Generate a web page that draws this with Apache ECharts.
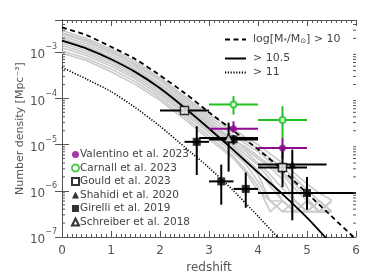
<!DOCTYPE html>
<html><head><meta charset="utf-8">
<script src="https://cdn.jsdelivr.net/npm/echarts@6/dist/echarts.min.js"></script>
<style>html,body{margin:0;padding:0;background:#fff}#c{width:374px;height:280px}</style>
</head><body><div id="c"></div>
<script>
const FONT = 'DejaVu Sans';
const TXT = '#555';
const AX = '#555';

// model curves (log10 number density) at redshift curveX
const curveX    = [0, 0.5, 1, 1.5, 2, 2.5, 3, 3.5, 4, 4.5, 5, 5.5, 6];
const logDashed = [-2.46, -2.63, -2.88, -3.15, -3.50, -3.88, -4.30, -4.70, -5.10, -5.55, -6.05, -6.55, -7.05];
const logSolid  = [-2.75, -2.92, -3.15, -3.43, -3.78, -4.20, -4.65, -5.12, -5.60, -6.07, -6.58, -7.15];
const logDotted = [-3.33, -3.58, -3.85, -4.20, -4.60, -5.05, -5.50, -6.00, -6.55, -7.12];

// grey model realisations (log10)
const grayX = [0, 0.5, 1, 1.5, 2, 2.5, 3, 3.5, 3.75, 4, 4.25, 4.5, 4.75, 5, 5.25, 5.5];
const grayLog1  = [-2.53,-2.70,-2.93,-3.20,-3.55,-3.95,-4.35,-4.65,-4.85,-5.00,-5.20,-5.40,-5.62,-5.85,-6.05,-6.20];
const grayLog2  = [-2.60,-2.77,-3.00,-3.28,-3.62,-4.03,-4.45,-4.80,-4.98,-5.15,-5.38,-5.60,-5.85,-6.15,-6.45,-6.22];
const grayLog3  = [-2.65,-2.82,-3.05,-3.33,-3.68,-4.08,-4.50,-4.88,-5.10,-5.30,-5.50,-5.75,-6.20,-6.45,-6.22,-6.45];
const grayLog4  = [-2.70,-2.87,-3.10,-3.38,-3.72,-4.13,-4.55,-4.95,-5.15,-5.40,-5.65,-5.95,-6.22,-6.45,-6.45,-6.22];
const grayLog5  = [-2.75,-2.92,-3.15,-3.43,-3.78,-4.18,-4.60,-5.00,-5.22,-5.45,-5.75,-6.22,-6.45,-6.22,-6.45,-6.45];
const grayLog6  = [-2.80,-2.97,-3.20,-3.48,-3.83,-4.23,-4.65,-5.05,-5.30,-5.55,-5.90,-6.22,-6.45,-6.45,-6.22,-6.45];
const grayLog7  = [-2.85,-3.02,-3.25,-3.53,-3.88,-4.28,-4.70,-5.10,-5.35,-5.65,-6.22,-6.45,-6.22,-6.45,-6.45,-6.45];
const grayLog8  = [-2.90,-3.07,-3.30,-3.58,-3.93,-4.33,-4.75,-5.18,-5.42,-5.80,-6.22,-6.22,-6.45,-6.22,-6.45,-6.45];
const grayLog9  = [-2.97,-3.13,-3.36,-3.64,-3.99,-4.39,-4.82,-5.25,-5.55,-5.90,-6.45,-6.22,-6.45,-6.45,-6.22,-6.45];
const grayLog10 = [-2.58,-2.74,-2.97,-3.25,-3.58,-3.98,-4.40,-4.72,-4.92,-5.08,-5.30,-5.50,-5.72,-5.98,-6.22,-6.45];
const grayLog11 = [-2.72,-2.90,-3.12,-3.40,-3.75,-4.15,-4.55,-4.90,-5.05,-5.25,-5.45,-5.65,-5.95,-6.22,-6.45,-6.22];
const grayLog12 = [-3.02,-3.18,-3.42,-3.70,-4.04,-4.45,-4.88,-5.30,-5.60,-6.00,-6.22,-6.45,-6.45,-6.22,-6.45,-6.45];
const grayLines = [grayLog1,grayLog2,grayLog3,grayLog4,grayLog5,grayLog6,grayLog7,grayLog8,grayLog9,grayLog10,grayLog11,grayLog12];

// observations
const valX = [3.5, 4.5], valY = [2.2e-5, 8.5e-6], valXlo = [3, 4], valXhi = [4, 5], valYlo = [1.8e-5, 5.0e-6], valYhi = [3.2e-5, 1.4e-5];
const carX = [3.5, 4.5], carY = [7.4e-5, 3.4e-5], carXlo = [3, 4], carXhi = [4, 5], carYlo = [4.5e-5, 1.4e-5], carYhi = [1.12e-4, 6.8e-5];
const gouX = [2.5, 4.5], gouY = [5.5e-5, 3.2e-6], gouXlo = [2, 4], gouXhi = [3, 5], gouYlo = [4.6e-5, 1.2e-6], gouYhi = [6.5e-5, 8.5e-6];
const shaX = [4.7], shaY = [3.7e-6], shaXlo = [4.0], shaXhi = [5.4], shaYlo = [2.3e-7], shaYhi = [7.8e-6];
const girX = [2.75, 3.25, 3.5, 3.75, 5.0], girY = [1.15e-5, 1.6e-6, 1.3e-5, 1.1e-6, 9.0e-7];
const girXlo = [2.5, 3.0, 3.0, 3.5, 4.0], girXhi = [3.0, 3.5, 4.0, 4.0, 6.0];
const girYlo = [2.2e-6, 5.0e-7, 1.0e-5, 4.3e-7, 3.9e-7], girYhi = [2.5e-5, 3.7e-6, 1.6e-5, 2.5e-6, 2.0e-6];
const schX = [3.4], schY = [1.4e-5], schXlo = [2.8], schXhi = [4.0], schYlo = [2.6e-6], schYhi = [3.0e-5];

const PURPLE = '#8e0a8e', GREEN = '#1fc21f', BLACK = '#000';

const chart = echarts.init(document.getElementById('c'), null, {renderer: 'canvas'});

function curve(logs, xs) { return logs.map((v, i) => [xs[i], Math.pow(10, v)]); }

function errSeries(name, color, xs, ys, xlo, xhi, ylo, yhi, z) {
  return {
    type: 'custom', name: name, z: z, silent: true,
    data: xs.map((x, i) => [x, ys[i], xlo[i], xhi[i], ylo[i], yhi[i]]),
    encode: {x: 0, y: 1},
    renderItem: function (params, api) {
      const x = api.value(0), y = api.value(1);
      const a = api.coord([api.value(2), y]), b = api.coord([api.value(3), y]);
      const c = api.coord([x, api.value(4)]), d = api.coord([x, api.value(5)]);
      const st = {stroke: color, lineWidth: 2};
      return {type: 'group', children: [
        {type: 'line', shape: {x1: a[0], y1: a[1], x2: b[0], y2: b[1]}, style: st},
        {type: 'line', shape: {x1: c[0], y1: c[1], x2: d[0], y2: d[1]}, style: st}
      ]};
    }
  };
}
function pts(name, xs, ys, symbol, size, itemStyle, z) {
  return {type: 'scatter', name: name, z: z, symbol: symbol, symbolSize: size, itemStyle: itemStyle,
    data: xs.map((x, i) => [x, ys[i]]), silent: true};
}

// minor ticks of the log axis (2..9 x each decade)
const minorVals = [];
for (let e = -7; e <= -3; e++) for (let m = 2; m <= 9; m++) { const v = m * Math.pow(10, e); if (v < 5e-3) minorVals.push([0, v]); }

const series = [];
grayLines.forEach((g, k) => series.push({
  type: 'line', name: 'g' + k, data: curve(g, grayX), symbol: 'none', silent: true, z: 1,
  lineStyle: {color: '#cacaca', width: 1.6}
}));
series.push({type: 'line', name: 'gt10', data: curve(logDashed, curveX), symbol: 'none', smooth: 0.2, z: 3,
  itemStyle: {color: BLACK}, lineStyle: {color: BLACK, width: 1.8, type: [5, 3.5]}});
series.push({type: 'line', name: 'gt105', data: curve(logSolid, curveX), symbol: 'none', smooth: 0.2, z: 3,
  itemStyle: {color: BLACK}, lineStyle: {color: BLACK, width: 1.8, type: 'solid'}});
series.push({type: 'line', name: 'gt11', data: curve(logDotted, curveX), symbol: 'none', smooth: 0.2, z: 3,
  itemStyle: {color: BLACK}, lineStyle: {color: BLACK, width: 1.6, type: [1.2, 1.6]}});

series.push(errSeries('e1', GREEN, carX, carY, carXlo, carXhi, carYlo, carYhi, 4));
series.push(errSeries('e2', PURPLE, valX, valY, valXlo, valXhi, valYlo, valYhi, 4));
series.push(errSeries('e3', BLACK, girX, girY, girXlo, girXhi, girYlo, girYhi, 5));
series.push(errSeries('e4', BLACK, gouX, gouY, gouXlo, gouXhi, gouYlo, gouYhi, 5));
series.push(errSeries('e5', BLACK, shaX, shaY, shaXlo, shaXhi, shaYlo, shaYhi, 5));
series.push(errSeries('e6', BLACK, schX, schY, schXlo, schXhi, schYlo, schYhi, 5));

series.push(pts('Valentino et al. 2023', valX, valY, 'circle', 7, {color: PURPLE}, 8));
series.push(pts('Carnall et al. 2023', carX, carY, 'circle', 6, {color: '#fff', borderColor: GREEN, borderWidth: 2}, 8));
series.push(pts('Gould et al. 2023', gouX, gouY, 'rect', 8, {color: '#fff', borderColor: BLACK, borderWidth: 1.5}, 8));
series.push(pts('Shahidi et al. 2020', shaX, shaY, 'triangle', 8, {color: BLACK}, 8));
series.push(pts('Girelli et al. 2019', girX, girY, 'rect', 8, {color: BLACK}, 8));
series.push(pts('Schreiber et al. 2018', schX, schY, 'triangle', 8, {color: '#fff', borderColor: BLACK, borderWidth: 1.5}, 8));

series.push({
  type: 'custom', name: 'minor', silent: true, z: 6, data: minorVals, encode: {x: 0, y: 1},
  renderItem: function (params, api) {
    const v = api.value(1);
    const p = api.coord([0, v]), q = api.coord([6, v]);
    const st = {stroke: AX, lineWidth: 1};
    return {type: 'group', children: [
      {type: 'line', shape: {x1: p[0], y1: p[1], x2: p[0] + 3, y2: p[1]}, style: st},
      {type: 'line', shape: {x1: q[0] - 3, y1: q[1], x2: q[0], y2: q[1]}, style: st}
    ]};
  }
});

const lineNames = {gt10: 'log[M{s|*}/M{s|⊙}] > 10', gt105: '> 10.5', gt11: '> 11'};
function topLegend(name, top) {
  return {
    show: true, left: 219, top: top, orient: 'horizontal', itemWidth: 21, itemHeight: 10, selectedMode: false,
    data: [name], formatter: n => lineNames[n],
    itemStyle: {opacity: 0},
    textStyle: {fontFamily: FONT, fontSize: 11, color: '#444', padding: [0, 0, 0, 2],
      rich: {s: {fontFamily: FONT, fontSize: 7, color: '#444', verticalAlign: 'bottom', lineHeight: 9}}}
  };
}

const option = {
  animation: false,
  backgroundColor: '#fff',
  grid: {left: 62, right: 18, top: 20, bottom: 43},
  legend: [
    topLegend('gt10', 29), topLegend('gt105', 48), topLegend('gt11', 62),
    {
      show: true, left: 66, top: 144, orient: 'vertical', itemWidth: 7, itemHeight: 7, itemGap: 2.5, selectedMode: false,
      data: ['Valentino et al. 2023', 'Carnall et al. 2023', 'Gould et al. 2023', 'Shahidi et al. 2020', 'Girelli et al. 2019', 'Schreiber et al. 2018'],
      textStyle: {fontFamily: FONT, fontSize: 10.5, color: '#444', lineHeight: 10, padding: [0, 0, 0, -4]}
    }
  ],
  xAxis: [
    {type: 'value', min: 0, max: 6, interval: 1, position: 'bottom',
      name: 'redshift', nameLocation: 'middle', nameGap: 24,
      nameTextStyle: {fontFamily: FONT, fontSize: 12, color: TXT},
      axisLine: {show: true, lineStyle: {color: AX, width: 1}},
      axisTick: {show: true, inside: true, length: 6, lineStyle: {color: AX}},
      minorTick: {show: true, splitNumber: 10, length: 3, lineStyle: {color: AX}},
      axisLabel: {fontFamily: FONT, fontSize: 12, color: TXT, margin: 8},
      splitLine: {show: false}},
    {type: 'value', min: 0, max: 6, interval: 1, position: 'top',
      axisLine: {show: true, lineStyle: {color: AX, width: 1}},
      axisTick: {show: true, inside: true, length: 6, lineStyle: {color: AX}},
      minorTick: {show: true, splitNumber: 10, length: 3, lineStyle: {color: AX}},
      axisLabel: {show: false}, splitLine: {show: false}}
  ],
  yAxis: [
    {type: 'log', logBase: 10, min: 1e-7, max: 5e-3, interval: 1, position: 'left',
      name: 'Number density [Mpc⁻³]', nameLocation: 'middle', nameGap: 36, nameRotate: 90, nameMoveOverlap: false,
      nameTextStyle: {fontFamily: FONT, fontSize: 11, color: TXT},
      axisLine: {show: true, lineStyle: {color: AX, width: 1}},
      axisTick: {show: true, inside: true, length: 7, lineStyle: {color: AX}},
      axisLabel: {margin: 5, showMaxLabel: false, fontFamily: FONT, color: TXT,
        formatter: function (v) { const e = Math.round(Math.log10(v)); return '{b|10}{s|−' + Math.abs(e) + '}'; },
        rich: {b: {fontFamily: FONT, fontSize: 12, color: TXT, lineHeight: 18, verticalAlign: 'bottom'},
               s: {fontFamily: FONT, fontSize: 8, color: TXT, lineHeight: 8, verticalAlign: 'top'}}},
      splitLine: {show: false}},
    {type: 'log', logBase: 10, min: 1e-7, max: 5e-3, interval: 1, position: 'right',
      axisLine: {show: true, lineStyle: {color: AX, width: 1}},
      axisTick: {show: true, inside: true, length: 7, lineStyle: {color: AX}},
      axisLabel: {show: false}, splitLine: {show: false}}
  ],
  series: series
};
chart.setOption(option);
</script></body></html>
